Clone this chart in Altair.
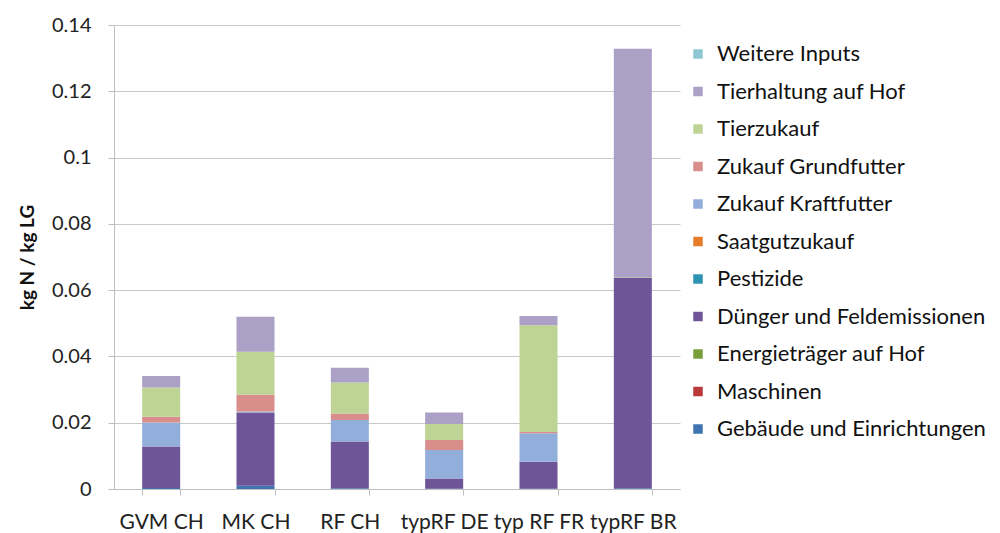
import altair as alt
import pandas as pd

categories = ["GVM CH", "MK CH", "RF CH", "typRF DE", "typ RF FR", "typRF BR"]

# stack order: bottom -> top
series = [
    "Gebäude und Einrichtungen",
    "Maschinen",
    "Energieträger auf Hof",
    "Dünger und Feldemissionen",
    "Pestizide",
    "Saatgutzukauf",
    "Zukauf Kraftfutter",
    "Zukauf Grundfutter",
    "Tierzukauf",
    "Tierhaltung auf Hof",
    "Weitere Inputs",
]
colors = [
    "#3F74B0", "#B8383B", "#77A03C", "#6E5598", "#2E93B0", "#E67B2A",
    "#92AEDA", "#DA8E8C", "#BED495", "#ABA0C6", "#8DC8D2",
]

gebaeude      = [0.0003, 0.0010, 0.0002, 0.0001, 0.0001, 0.0002]
maschinen     = [0.0000, 0.0000, 0.0000, 0.0000, 0.0000, 0.0000]
energie       = [0.0000, 0.0000, 0.0000, 0.0000, 0.0000, 0.0000]
duenger       = [0.0125, 0.0221, 0.0141, 0.0031, 0.0081, 0.0636]
pestizide     = [0.0000, 0.0000, 0.0000, 0.0000, 0.0000, 0.0000]
saatgut       = [0.0000, 0.0000, 0.0000, 0.0000, 0.0000, 0.0000]
kraftfutter   = [0.0073, 0.0003, 0.0065, 0.0086, 0.0086, 0.0000]
grundfutter   = [0.0017, 0.0050, 0.0020, 0.0030, 0.0004, 0.0000]
tierzukauf    = [0.0088, 0.0130, 0.0093, 0.0048, 0.0322, 0.0002]
tierhaltung   = [0.0035, 0.0106, 0.0045, 0.0035, 0.0028, 0.0688]
weitere       = [0.0000, 0.0000, 0.0000, 0.0000, 0.0000, 0.0000]

values = [gebaeude, maschinen, energie, duenger, pestizide, saatgut,
          kraftfutter, grundfutter, tierzukauf, tierhaltung, weitere]

rows = []
for si, (name, vals) in enumerate(zip(series, values)):
    for cat, v in zip(categories, vals):
        rows.append({"Kategorie": cat, "Quelle": name, "Wert": v, "ord": si})
df = pd.DataFrame(rows)

legend_order = list(reversed(series))
legend_colors = list(reversed(colors))

FONT = "Lato"

chart = alt.Chart(df).mark_bar().encode(
    x=alt.X("Kategorie:N", sort=categories, title=None,
            scale=alt.Scale(paddingInner=0.597, paddingOuter=0.2985),
            axis=alt.Axis(labelAngle=0, labelFont=FONT, labelFontSize=21,
                          labelColor="#222222", tickBand="extent",
                          tickSize=6, tickColor="#BFBFBF", domainColor="#BFBFBF",
                          labelPadding=16)),
    y=alt.Y("sum(Wert):Q", title="kg N / kg LG",
            scale=alt.Scale(domain=[0, 0.14]),
            axis=alt.Axis(values=[0, 0.02, 0.04, 0.06, 0.08, 0.1, 0.12, 0.14],
                          format="~g", labelFont=FONT, labelFontSize=20,
                          labelColor="#222222", titleFont=FONT, titleFontSize=19,
                          titleFontWeight="bold", titleColor="#111111",
                          tickSize=6, tickColor="#BFBFBF", domainColor="#BFBFBF",
                          gridColor="#C8C8C8", labelPadding=17, titlePadding=14)),
    color=alt.Color("Quelle:N",
                    scale=alt.Scale(domain=legend_order, range=legend_colors),
                    legend=alt.Legend(title=None, orient="none", legendX=573,
                                      legendY=18, symbolType="square",
                                      symbolSize=90, symbolStrokeWidth=0,
                                      labelFont=FONT, labelFontSize=22,
                                      labelColor="#111111", rowPadding=15.5,
                                      labelOffset=8, labelLimit=400)),
    order=alt.Order("ord:Q", sort="ascending"),
).properties(
    width=566,
    height=464,
    autosize=alt.AutoSizeParams(type="none"),
    padding={"left": 106, "top": 17, "right": 312, "bottom": 44},
).configure_view(stroke=None).configure_axisX(grid=False)

chart.save("out.html", embed_options={"renderer": "svg", "actions": False})
